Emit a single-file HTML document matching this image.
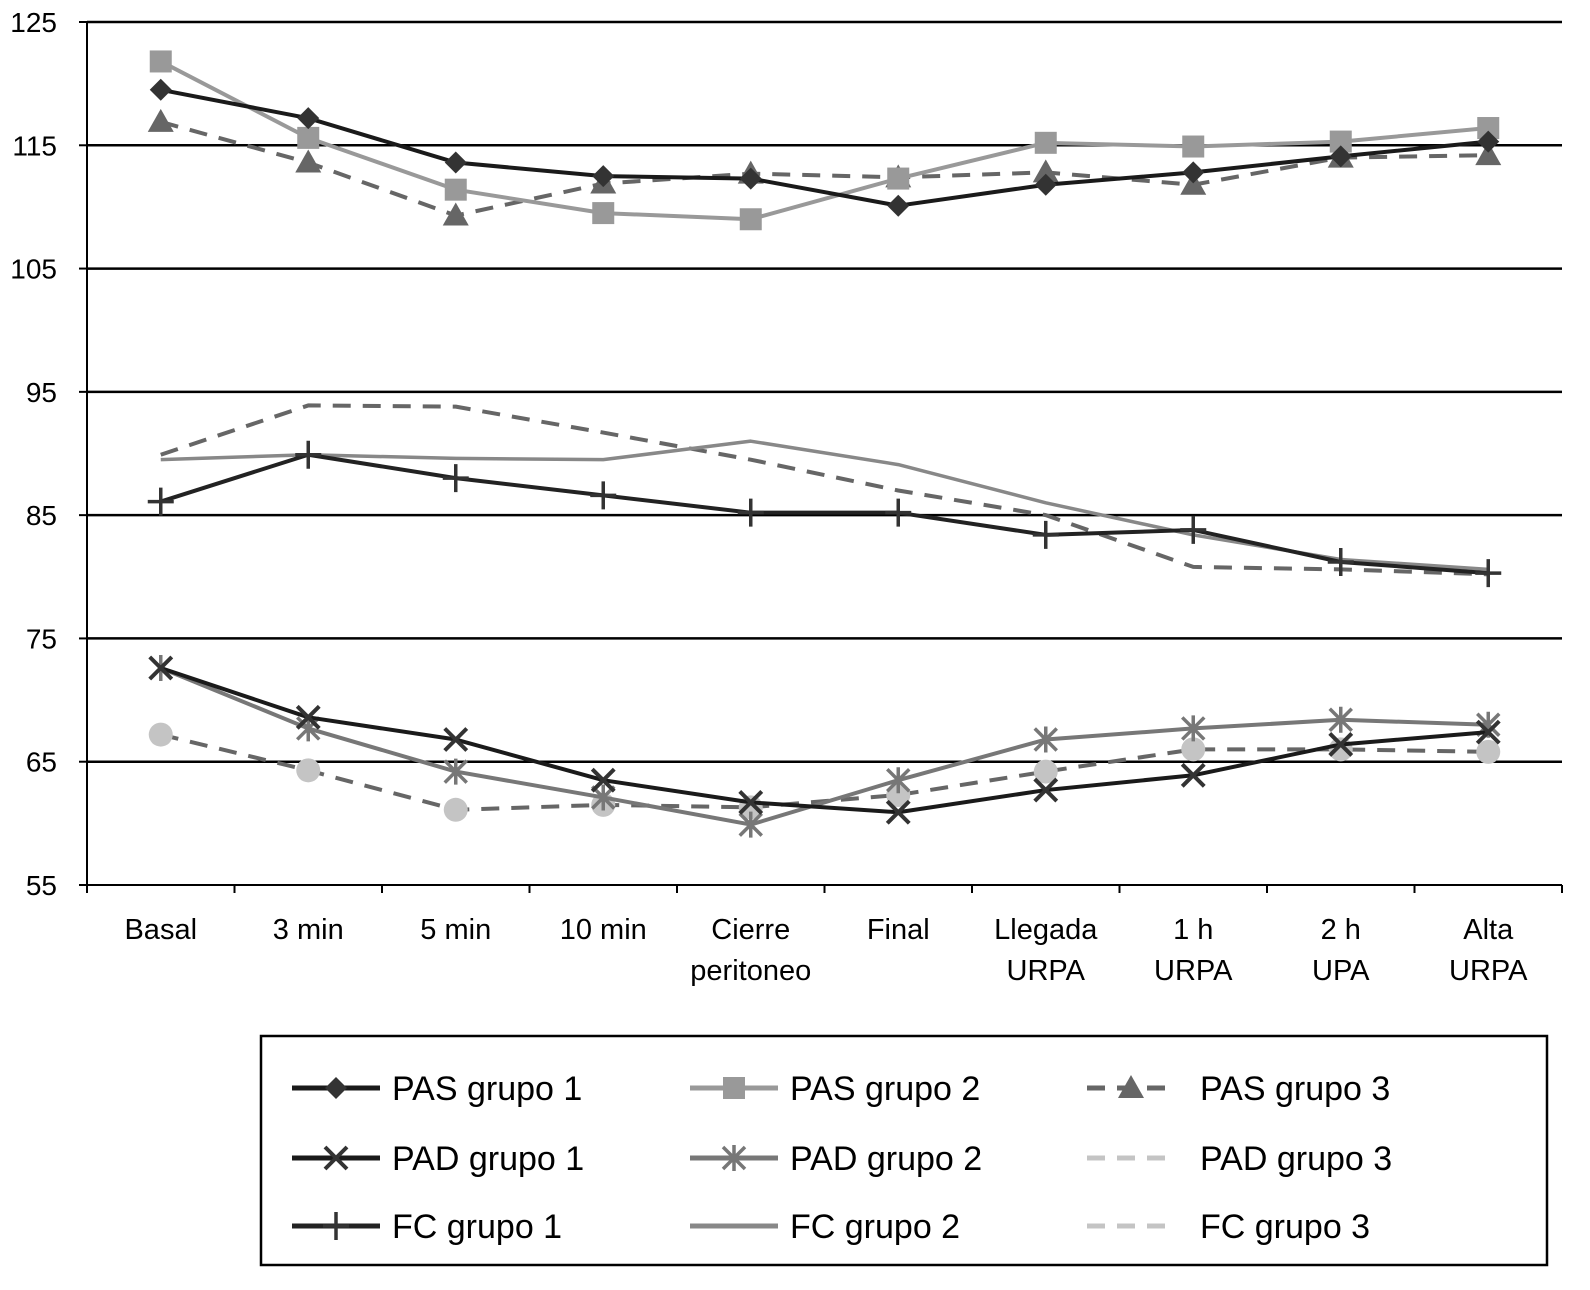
<!DOCTYPE html>
<html><head><meta charset="utf-8"><style>
body{margin:0;background:#fff;}
svg text{font-family:"Liberation Sans",sans-serif;}
</style></head><body>
<svg id="chart" width="1590" height="1285" xmlns="http://www.w3.org/2000/svg"></svg>
<script>
const categories=[["Basal"],["3 min"],["5 min"],["10 min"],["Cierre","peritoneo"],["Final"],["Llegada","URPA"],["1 h","URPA"],["2 h","UPA"],["Alta","URPA"]];
const yTicks=[55,65,75,85,95,105,115,125];
const pas1=[119.5,117.2,113.6,112.5,112.3,110.1,111.8,112.8,114.1,115.3];
const pas2=[121.8,115.6,111.4,109.5,109.0,112.3,115.2,114.9,115.3,116.4];
const pas3=[116.9,113.6,109.3,111.9,112.7,112.4,112.8,111.8,114.0,114.2];
const fc1=[86.1,89.9,88.0,86.6,85.2,85.2,83.4,83.8,81.2,80.3];
const fc2=[89.5,89.9,89.6,89.5,91.0,89.1,86.0,83.4,81.4,80.6];
const fc3=[89.9,93.9,93.8,91.7,89.5,87.0,85.0,80.8,80.6,80.2];
const pad1=[72.6,68.6,66.8,63.5,61.7,60.9,62.7,63.9,66.4,67.4];
const pad2=[72.6,67.7,64.2,62.1,59.9,63.5,66.8,67.7,68.4,68.0];
const pad3=[67.2,64.3,61.1,61.5,61.3,62.3,64.2,66.0,66.0,65.8];
const NS="http://www.w3.org/2000/svg";
const svg=document.getElementById('chart');
const X0=87,X1=1562,Y0=885,Y1=22;
const cw=(X1-X0)/categories.length;
const xs=i=>X0+cw*(i+0.5);
const ys=v=>Y0-(v-55)/(125-55)*(Y0-Y1);
function el(t,a,p){const e=document.createElementNS(NS,t);for(const k in a)e.setAttribute(k,a[k]);(p||svg).appendChild(e);return e;}
yTicks.forEach(v=>{
 if(v>55){const g=el('line',{x1:X0,x2:X1,y1:ys(v),y2:ys(v),stroke:'#000','stroke-width':2.5});
 
 }
 const t=el('text',{x:X0-30,y:ys(v)+10,'text-anchor':'end','font-size':28,fill:'#000'});t.textContent=v;
 
 
 el('line',{x1:X0-8,x2:X0,y1:ys(v),y2:ys(v),stroke:'#000','stroke-width':2});
});
const ax=el('line',{x1:X0,x2:X0,y1:Y1,y2:Y0,stroke:'#000','stroke-width':2});


const bx=el('line',{x1:X0,x2:X1,y1:Y0,y2:Y0,stroke:'#000','stroke-width':2});


categories.forEach((c,i)=>{
 el('line',{x1:X0+cw*i,x2:X0+cw*i,y1:Y0,y2:Y0+8,stroke:'#000','stroke-width':2});
 c.forEach((s,j)=>{const t=el('text',{x:xs(i),y:Y0+54+j*41,'text-anchor':'middle','font-size':29,fill:'#000'});t.textContent=s;
 
 });
});
el('line',{x1:X1,x2:X1,y1:Y0,y2:Y0+8,stroke:'#000','stroke-width':2});
function marker(type,x,y,color,g){
 if(type==='diamond')el('polygon',{points:`${x},${y-11} ${x+11},${y} ${x},${y+11} ${x-11},${y}`,fill:color},g);
 else if(type==='square')el('rect',{x:x-11,y:y-11,width:22,height:22,fill:color},g);
 else if(type==='triangle')el('polygon',{points:`${x},${y-13} ${x+13},${y+10} ${x-13},${y+10}`,fill:color},g);
 else if(type==='circle')el('circle',{cx:x,cy:y,r:12,fill:color},g);
 else if(type==='x'){el('path',{d:`M${x-11} ${y-11}L${x+11} ${y+11}M${x+11} ${y-11}L${x-11} ${y+11}`,stroke:color,'stroke-width':4},g);}
 else if(type==='star'){el('path',{d:`M${x-11} ${y-11}L${x+11} ${y+11}M${x+11} ${y-11}L${x-11} ${y+11}M${x} ${y-13}L${x} ${y+13}`,stroke:color,'stroke-width':3.5},g);}
 else if(type==='plus'){el('path',{d:`M${x-13} ${y}L${x+13} ${y}M${x} ${y-14}L${x} ${y+14}`,stroke:color,'stroke-width':3.5},g);}
}
const series=[
 {n:'FC grupo 3',d:fc3,c:'#666',w:4,dash:'18 12',m:null},
 {n:'FC grupo 2',d:fc2,c:'#888',w:3.5,dash:null,m:null},
 {n:'FC grupo 1',d:fc1,c:'#222',w:4,dash:null,m:'plus',mc:'#333'},
 {n:'PAD grupo 3',d:pad3,c:'#666',w:4,dash:'18 12',m:'circle',mc:'#c4c4c4'},
 {n:'PAD grupo 2',d:pad2,c:'#777',w:4,dash:null,m:'star',mc:'#777'},
 {n:'PAD grupo 1',d:pad1,c:'#1a1a1a',w:4,dash:null,m:'x',mc:'#333'},
 {n:'PAS grupo 3',d:pas3,c:'#666',w:4,dash:'18 12',m:'triangle',mc:'#666'},
 {n:'PAS grupo 2',d:pas2,c:'#999',w:4,dash:null,m:'square',mc:'#999'},
 {n:'PAS grupo 1',d:pas1,c:'#1a1a1a',w:4,dash:null,m:'diamond',mc:'#333'},
];
series.forEach(s=>{
 const g=el('g',{});
 
 
 const a={points:s.d.map((v,i)=>xs(i)+','+ys(v)).join(' '),fill:'none',stroke:s.c,'stroke-width':s.w,'stroke-linejoin':'round'};
 if(s.dash)a['stroke-dasharray']=s.dash;
 el('polyline',a,g);
 if(s.m)s.d.forEach((v,i)=>marker(s.m,xs(i),ys(v),s.mc,g));
});
const lg=el('g',{});


el('rect',{x:261,y:1036,width:1286,height:229,fill:'#fff',stroke:'#000','stroke-width':2.5},lg);
const leg=[
 ['PAS grupo 1','#1a1a1a',null,'diamond','#333'],['PAS grupo 2','#999',null,'square','#999'],['PAS grupo 3','#666','18 12','triangle','#666'],
 ['PAD grupo 1','#1a1a1a',null,'x','#333'],['PAD grupo 2','#777',null,'star','#777'],['PAD grupo 3','#c4c4c4','18 12',null],
 ['FC grupo 1','#222',null,'plus','#333'],['FC grupo 2','#888',null,null],['FC grupo 3','#c4c4c4','18 12',null]];
const colX=[292,690,1087],rowY=[1088,1158,1226];
leg.forEach((l,k)=>{
 const x=colX[k%3],y=rowY[Math.floor(k/3)];
 const g=el('g',{},lg);
 
 
 const a={x1:x,x2:x+88,y1:y,y2:y,stroke:l[1],'stroke-width':5};
 if(l[2])a['stroke-dasharray']=l[2];
 el('line',a,g);
 if(l[3])marker(l[3],x+44,y,l[4],g);
 const t=el('text',{x:x+(k%3===2?113:100),y:y+12,'font-size':34,fill:'#000'},g);t.textContent=l[0];
});
</script>
</body></html>
